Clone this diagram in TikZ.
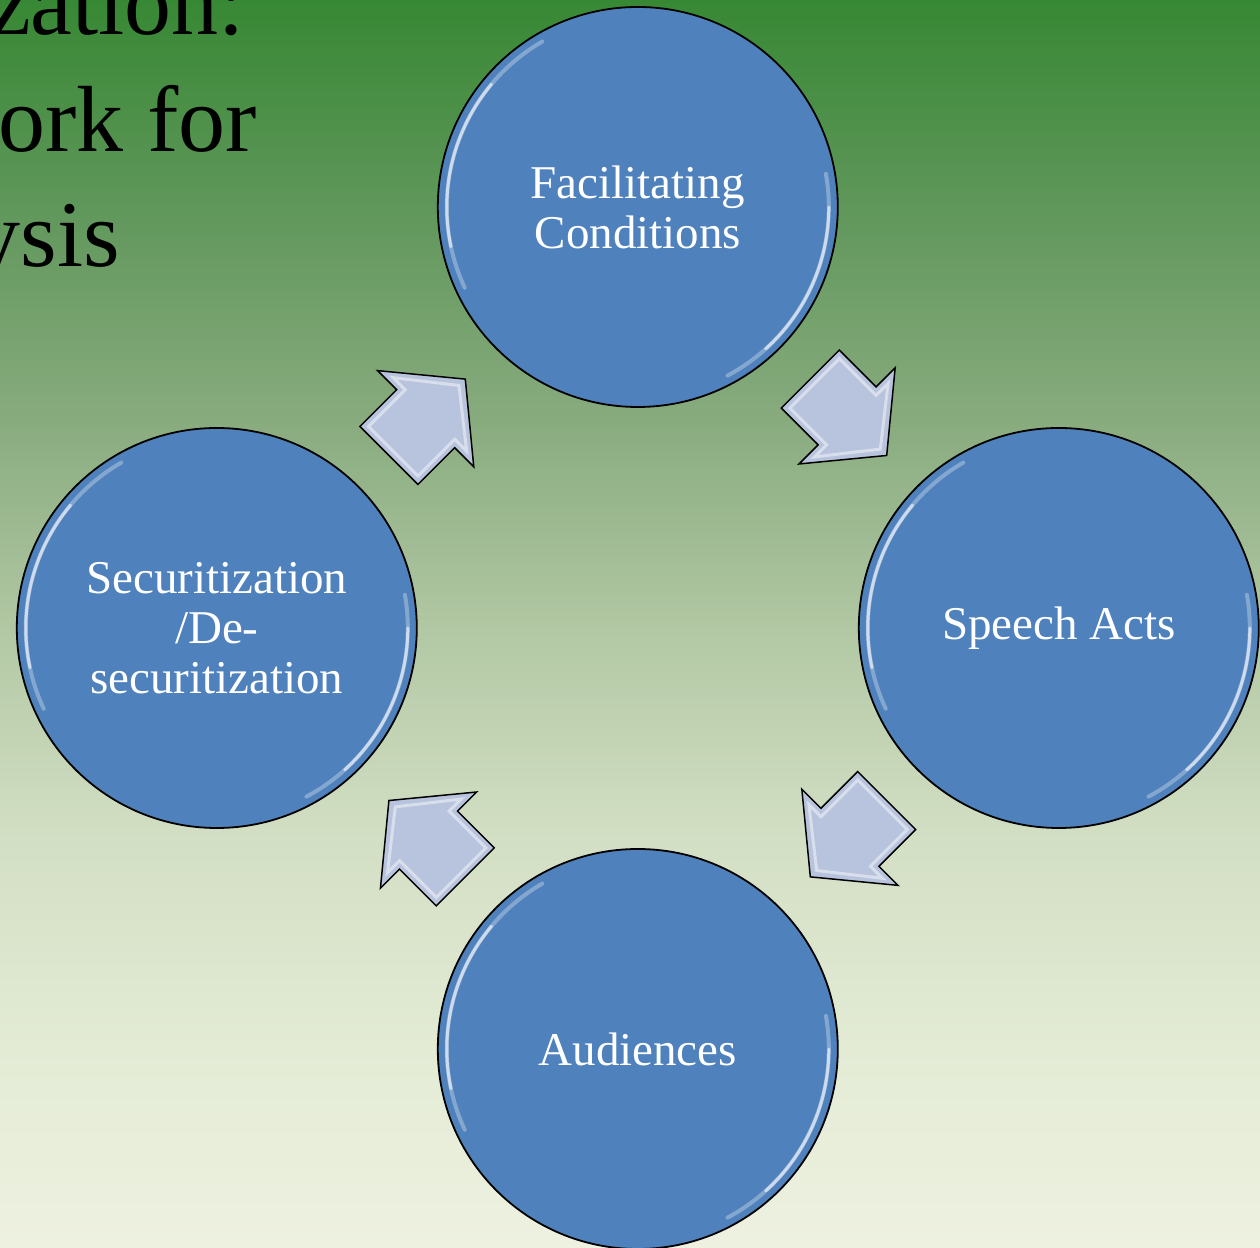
\documentclass[tikz,border=0pt]{standalone}
\usepackage{fontspec}
\setmainfont{Liberation Serif}
\usetikzlibrary{positioning}

\definecolor{stageblue}{RGB}{79,129,189}
\definecolor{blockgrey}{RGB}{184,196,221}
\definecolor{bgA}{RGB}{238,241,224}
\definecolor{bgB}{RGB}{227,235,213}
\definecolor{bgC}{RGB}{211,223,196}
\definecolor{bgD}{RGB}{178,200,164}
\definecolor{bgE}{RGB}{136,171,126}
\definecolor{bgF}{RGB}{96,151,91}
\definecolor{bgG}{RGB}{55,136,52}
\pgfdeclareverticalshading{bgfade}{100bp}{color(0bp)=(bgA); color(25bp)=(bgA);
  color(32.9bp)=(bgB); color(41.3bp)=(bgC); color(49.7bp)=(bgD);
  color(58.2bp)=(bgE); color(66.6bp)=(bgF); color(75bp)=(bgG); color(100bp)=(bgG)}

\tikzset{
  stage/.style={circle, draw=black, line width=1.8pt, fill=stageblue,
    minimum size=400pt, inner sep=0pt, text=white, align=center,
    font=\fontsize{47}{50}\selectfont},
  block/.style={draw=black, line width=1.5pt, fill=blockgrey, line join=miter},
  glint/.style={draw=white, line width=3pt, opacity=0.45, line join=miter},
  sheen/.style={draw=white, line width=4pt, opacity=0.3, line cap=round},
  gleam/.style={draw=white, line width=3pt, opacity=0.6, line cap=round},
  heading/.style={anchor=base east, inner sep=0pt, text=black,
    font=\fontsize{94}{116}\selectfont}
}

\begin{document}
\begin{tikzpicture}[x=1pt,y=1pt]
\useasboundingbox (0,0) rectangle (1260,1247);
\shade[shading=bgfade] (0,0) rectangle (1260,1247);
% title, cut at the left edge
\node[heading] (ttlA) at (245,1212) {zation:};
\node[heading] (ttlB) at (257,1095) {ork for};
\node[heading] (ttlC) at (120,980) {ysis};
% the four stages
\coordinate (hub) at (637.8,619);
\node[stage] (fac) at (637.8,1040) {Facilitating\\Conditions};
\node[stage] (speech) at (1058.8,619) {Speech Acts};
\node[stage] (aud) at (637.8,198) {Audiences};
\node[stage] (sec) at (216.8,619) {Securitization\\/De-\\securitization};
% rim light
\draw[sheen] (fac.center) ++(120:191) arc[start angle=120, end angle=205, radius=191];
\draw[gleam] (fac.center) ++(140:191) arc[start angle=140, end angle=192, radius=191];
\draw[sheen] (fac.center) ++(10:191) arc[start angle=10, end angle=-62, radius=191];
\draw[gleam] (fac.center) ++(0:191) arc[start angle=0, end angle=-48, radius=191];
\draw[sheen] (speech.center) ++(120:191) arc[start angle=120, end angle=205, radius=191];
\draw[gleam] (speech.center) ++(140:191) arc[start angle=140, end angle=192, radius=191];
\draw[sheen] (speech.center) ++(10:191) arc[start angle=10, end angle=-62, radius=191];
\draw[gleam] (speech.center) ++(0:191) arc[start angle=0, end angle=-48, radius=191];
\draw[sheen] (aud.center) ++(120:191) arc[start angle=120, end angle=205, radius=191];
\draw[gleam] (aud.center) ++(140:191) arc[start angle=140, end angle=192, radius=191];
\draw[sheen] (aud.center) ++(10:191) arc[start angle=10, end angle=-62, radius=191];
\draw[gleam] (aud.center) ++(0:191) arc[start angle=0, end angle=-48, radius=191];
\draw[sheen] (sec.center) ++(120:191) arc[start angle=120, end angle=205, radius=191];
\draw[gleam] (sec.center) ++(140:191) arc[start angle=140, end angle=192, radius=191];
\draw[sheen] (sec.center) ++(10:191) arc[start angle=10, end angle=-62, radius=191];
\draw[gleam] (sec.center) ++(0:191) arc[start angle=0, end angle=-48, radius=191];
% block arrows between the stages
\coordinate (arFS) at (848.5,829.7);
\coordinate (arSA) at (848.5,408.3);
\coordinate (arAS) at (427.1,408.3);
\coordinate (arSF) at (427.1,829.7);
\begin{scope}[shift={(arFS)}, rotate=-45]
\draw[block] (-54,41) -- (-2,41) -- (-2,68) -- (54,0) -- (-2,-68) -- (-2,-41) -- (-54,-41) -- cycle;
\draw[glint] (-48,35) -- (4,35) -- (4,52) -- (45,0) -- (4,-52) -- (4,-35) -- (-48,-35) -- cycle;
\end{scope}
\begin{scope}[shift={(arSA)}, rotate=-135]
\draw[block] (-54,41) -- (-2,41) -- (-2,68) -- (54,0) -- (-2,-68) -- (-2,-41) -- (-54,-41) -- cycle;
\draw[glint] (-48,35) -- (4,35) -- (4,52) -- (45,0) -- (4,-52) -- (4,-35) -- (-48,-35) -- cycle;
\end{scope}
\begin{scope}[shift={(arAS)}, rotate=135]
\draw[block] (-54,41) -- (-2,41) -- (-2,68) -- (54,0) -- (-2,-68) -- (-2,-41) -- (-54,-41) -- cycle;
\draw[glint] (-48,35) -- (4,35) -- (4,52) -- (45,0) -- (4,-52) -- (4,-35) -- (-48,-35) -- cycle;
\end{scope}
\begin{scope}[shift={(arSF)}, rotate=45]
\draw[block] (-54,41) -- (-2,41) -- (-2,68) -- (54,0) -- (-2,-68) -- (-2,-41) -- (-54,-41) -- cycle;
\draw[glint] (-48,35) -- (4,35) -- (4,52) -- (45,0) -- (4,-52) -- (4,-35) -- (-48,-35) -- cycle;
\end{scope}
\end{tikzpicture}
\end{document}
